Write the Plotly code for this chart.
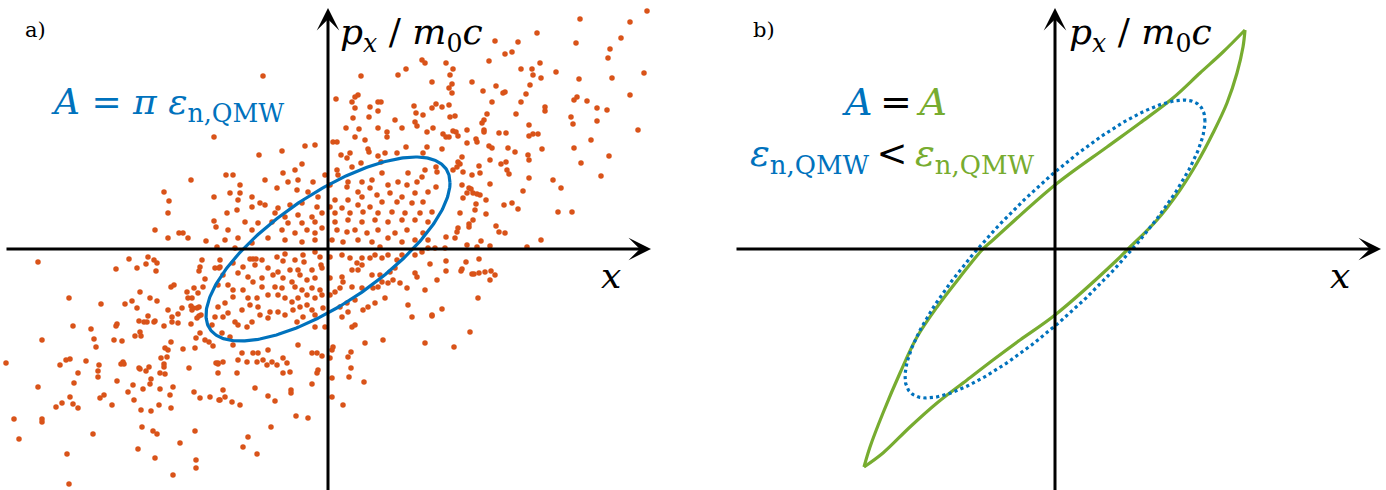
import numpy as np
import plotly.graph_objects as go

# ---------------------------------------------------------------
# Phase-space particle cloud (x, p_x/m0c) in panel a, grouped by area
# ---------------------------------------------------------------
dots_nw = [(-114,112),(-137,69),(-164,57),(-159,48),(-114,52),(-160,36),(-114,28),(-112,22),
           (-173,19),(-149,16),(-145,16),(-140,11),(-160,11),(-122,8),(-111,2)]

dots_n = [(94,189),(97,186),(78,180),(70,174),(33,173),(104,167),(-65,173),(30,154),(27,152),(8,150),
          (50,147),(53,147),(24,147),(42,142),(27,141),(86,143),(104,141),(88,136),(95,134),(50,138),
          (67,129),(41,132),(25,131),(87,127),(89,123),(74,121),(50,121),(59,117),(31,120),(18,121),
          (99,117),(59,112),(37,109),(27,112),(5,107),(9,107),(-13,104),(-23,103),(40,100),(78,102),
          (99,102),(22,96),(13,94),(50,93),(57,96),(41,97),(69,96),(95,96),(-46,98),(-69,94),
          (19,91),(33,86),(53,87),(24,82),(9,79),(-3,74),(10,74),(-26,85),(-33,79),(-45,76),
          (-102,74),(-95,74),(20,67),(34,67),(44,69),(54,76),(80,76),(97,79),(94,72),(89,67),
          (79,64),(70,67),(60,64),(42,61),(30,57),(19,62),(2,64),(-15,67),(-30,69),(-40,67),
          (-51,61),(-63,69),(-88,64),(-98,56),(-88,56),(-76,52),(-68,46),(-90,49),(-31,59),(-20,57),
          (-10,52),(7,49),(20,49),(34,52),(49,54),(62,56),(74,52),(87,56),(100,57),(95,47),
          (84,46),(69,47),(54,47),(42,42),(30,44),(14,41),(2,42),(-11,42),(-26,46),(-38,44),
          (-50,41),(-63,44),(-76,42),(-91,39),(-101,36),(-53,36),(-43,32),(-30,34),(-16,32),(-6,36),
          (7,36),(22,36),(35,37),(50,36),(64,37),(77,36),(92,36),(104,37),(100,27),(87,29),
          (74,29),(60,27),(47,29),(34,27),(20,29),(7,27),(-13,27),(-26,26),(-40,26),(-56,27),
          (-70,26),(-83,27),(-100,19),(-76,19),(-46,19),(-33,16),(-21,19),(-13,16),(-6,21),(9,19),
          (19,17),(27,19),(39,16),(50,19),(67,16),(79,19),(95,16),(-60,11),(-43,9),(-26,7),
          (-13,9),(4,9),(15,7),(30,9),(44,7),(60,11),(74,7),(87,9),(100,9),(-103,9),
          (-90,11),(-76,6),(52,2)]

dots_ne = [(319,238),(252,230),(302,227),(209,216),(293,211),(167,208),(190,207),(248,206),(282,200),(184,197),
           (177,195),(161,188),(280,191),(118,186),(212,186),(125,180),(193,180),(204,180),(228,177),(316,176),
           (122,174),(205,174),(213,171),(284,171),(251,170),(144,167),(124,165),(202,164),(168,163),(121,161),
           (155,158),(124,156),(177,157),(175,156),(198,155),(302,154),(249,152),(246,149),(259,148),(164,147),
           (193,147),(108,145),(121,144),(114,142),(217,142),(217,138),(269,141),(279,139),(188,135),(159,135),
           (122,132),(127,133),(243,132),(156,129),(154,126),(269,128),(245,125),(201,124),(105,121),(310,119),
           (139,119),(156,119),(156,117),(125,118),(128,117),(115,115),(118,112),(121,112),(130,113),(171,116),
           (178,116),(201,113),(205,115),(210,115),(148,110),(149,107),(139,106),(263,109),(161,103),(164,101),
           (180,101),(114,100),(214,100),(246,101),(187,97),(200,94),(201,89),(134,92),(281,93),(162,89),
           (253,86),(130,87),(132,85),(129,82),(178,87),(173,85),(151,83),(179,79),(181,75),(108,82),
           (125,79),(135,77),(152,76),(144,74),(273,73),(201,71),(225,69),(162,65),(134,64),(141,61),
           (143,60),(233,61),(145,56),(149,55),(152,54),(139,56),(195,58),(135,51),(158,49),(148,45),
           (184,46),(176,44),(230,37),(244,37),(190,40),(147,39),(132,36),(158,35),(145,29),(141,25),
           (141,22),(168,23),(130,21),(129,17),(171,17),(177,16),(118,12),(127,11),(213,9),(153,8),
           (139,4),(162,3),(199,2),(149,2),(108,62),(109,77)]

dots_se = [(102,-15),(107,1),(117,1),(118,-12),(138,-13),(151,-10),(118,-22),(134,-20),(133,-22),(144,-25),
           (146,-25),(151,-24),(157,-23),(163,-22),(167,-26),(162,-31),(109,-31),(150,-49),(114,-60),(104,-67),
           (142,-83),(126,-98)]

dots_sw = [(-290,-13),(-199,-10),(-180,-8),(-174,-11),(-171,-14),(-182,-15),(-212,-20),(-191,-19),(-172,-22),(-126,-11),
           (-128,-18),(-129,-22),(-113,-19),(-109,-19),(-123,-30),(-154,-36),(-157,-38),(-134,-39),(-125,-38),(-141,-43),
           (-130,-44),(-188,-43),(-140,-49),(-136,-49),(-178,-49),(-171,-52),(-196,-52),(-259,-49),(-227,-55),(-203,-55),
           (-146,-59),(-137,-57),(-135,-59),(-131,-59),(-129,-58),(-136,-61),(-191,-59),(-160,-61),(-150,-65),(-156,-68),
           (-180,-67),(-129,-67),(-131,-69),(-127,-66),(-189,-72),(-184,-73),(-181,-73),(-174,-73),(-173,-72),(-150,-74),
           (-156,-73),(-137,-75),(-164,-77),(-211,-75),(-212,-77),(-255,-77),(-116,-76),(-237,-80),(-188,-83),(-128,-84),
           (-193,-87),(-187,-87),(-132,-89),(-123,-91),(-119,-93),(-157,-93),(-115,-97),(-286,-91),(-234,-90),(-214,-91),
           (-206,-92),(-232,-98),(-145,-100),(-133,-99),(-163,-99),(-160,-101),(-161,-108),(-167,-109),(-322,-114),(-262,-111),
           (-258,-110),(-242,-112),(-268,-116),(-229,-116),(-207,-115),(-205,-113),(-204,-115),(-164,-115),(-164,-118),(-112,-114),
           (-110,-115),(-189,-119),(-188,-120),(-179,-118),(-139,-119),(-182,-122),(-230,-122),(-250,-124),(-168,-124),(-163,-125),
           (-230,-128),(-177,-130),(-254,-134),(-211,-132),(-178,-135),(-290,-138),(-195,-136),(-155,-138),(-185,-140),(-168,-140),
           (-200,-143),(-134,-143),(-158,-146),(-224,-146),(-228,-149),(-258,-148),(-128,-149),(-118,-148),(-109,-151),(-194,-151),
           (-266,-154),(-255,-155),(-272,-158),(-250,-159),(-216,-156),(-169,-156),(-157,-159),(-187,-161),(-177,-162),(-314,-170),
           (-286,-170),(-286,-173),(-186,-178),(-175,-182),(-171,-185),(-133,-182),(-235,-185),(-309,-190),(-148,-194),(-190,-200),
           (-261,-205),(-173,-209),(-132,-211),(-132,-219),(-155,-226),(-259,-235)]

dots_s = [(-93,1),(-78,-10),(-75,-10),(-72,-10),(-66,-11),(-51,-8),(-43,-5),(-45,-12),(-33,-11),(-25,-6),
          (-24,-13),(-13,-3),(-8,-8),(-7,-16),(-16,-21),(-6,-19),(2,-8),(14,-6),(22,-9),(29,-14),
          (34,-9),(42,-9),(47,-6),(54,-9),(60,-6),(69,-11),(74,-6),(87,-6),(94,-3),(100,1),
          (-108,-11),(-95,-14),(-108,-18),(-85,-18),(-73,-16),(-60,-19),(-50,-23),(-38,-21),(-30,-21),(-28,-26),
          (-21,-31),(-13,-29),(2,-29),(14,-28),(24,-21),(30,-21),(34,-16),(44,-26),(52,-26),(62,-23),
          (67,-19),(65,-31),(60,-34),(54,-33),(50,-38),(45,-39),(34,-39),(24,-38),(15,-33),(12,-39),
          (7,-43),(2,-46),(87,-24),(89,-28),(97,-41),(79,-39),(72,-34),(-105,-26),(-90,-24),(-80,-28),
          (-66,-29),(-55,-26),(-45,-29),(-36,-33),(-53,-38),(-46,-39),(-66,-38),(-75,-33),(-85,-41),(-95,-41),
          (-100,-36),(-110,-36),(-95,-48),(-80,-49),(-71,-49),(-60,-46),(-50,-46),(-43,-49),(-36,-53),(-30,-49),
          (-21,-46),(-13,-49),(-6,-46),(-26,-41),(-33,-38),(-16,-39),(-8,-41),(-70,-58),(-78,-56),(-86,-61),
          (-103,-54),(-110,-58),(-100,-64),(-105,-68),(-113,-68),(-93,-73),(-90,-76),(-81,-78),(-76,-73),(-68,-66),
          (-60,-69),(-58,-63),(-50,-63),(-43,-66),(-35,-61),(-28,-58),(-21,-56),(-16,-61),(-13,-66),(-5,-59),
          (-25,-68),(-31,-73),(-13,-78),(-3,-78),(19,-54),(27,-51),(35,-61),(40,-58),(47,-54),(57,-49),
          (80,-56),(84,-68),(104,-66),(97,-94),(55,-91),(37,-94),(24,-78),(27,-76),(14,-68),(12,-58),
          (20,-63),(-98,-88),(-106,-84),(-95,-96),(-86,-104),(-75,-104),(-70,-104),(-60,-101),(-45,-109),(-41,-114),
          (-56,-113),(-61,-116),(-51,-116),(-65,-111),(-71,-113),(-81,-113),(-90,-111),(-105,-113),(-110,-114),(-110,-124),
          (-91,-124),(-73,-139),(-105,-141),(-103,-148),(-108,-151),(-96,-153),(-88,-156),(-60,-147),(-53,-152),(-38,-123),
          (-45,-124),(-37,-141),(-37,-144),(-32,-167),(-20,-169),(-57,-178),(-80,-188),(-85,-198),(-71,-205),(-30,-96),
          (-16,-104),(-11,-104),(-6,-107),(-10,-121),(-11,-124),(-16,-135),(4,-101),(5,-98),(2,-109),(4,-129),
          (4,-148),(15,-156),(20,-108),(23,-103),(23,-119),(21,-128),(36,-133)]

# rms ellipse of the cloud: half width in x, half height in p, p at x = 0
ellipse_a = dict(x_max=122, p_max=92, p_at_zero=64)
# equivalent ellipse of panel b (same area as the distorted contour)
ellipse_b = dict(x_max=150, p_max=149, p_at_zero=77)

# distorted (nonlinear) phase-space contour of panel b, two branches tip to tip
green_upper_x = [190, 168, 145, 118, 85, 52, 0, -62, -73, -95, -118, -138, -155, -172, -185, -191]
green_upper_p = [219, 197, 176, 151, 126, 102, 64, 9, -1, -28, -58, -88, -124, -164, -198, -218]
green_lower_x = [-191, -172, -145, -118, -88, -62, -35, 0, 62, 72, 102, 125, 142, 158, 172, 182, 188, 190]
green_lower_p = [-218, -204, -178, -154, -131, -111, -91, -66, -11, -1, 29, 59, 86, 116, 146, 176, 202, 219]

BLUE = "#0072BD"
GREEN = "#77AC30"
ORANGE = "#D95319"
SERIF = "DejaVu Serif"
THIN = "\u2009"


def ellipse_outline(x_max, p_max, p_at_zero, n=361):
    delta = np.arcsin(p_at_zero / p_max)
    t = np.linspace(0, 2 * np.pi, n)
    return x_max * np.cos(t), p_max * np.cos(t - delta)


fig = go.Figure()

all_dots = dots_nw + dots_n + dots_ne + dots_se + dots_sw + dots_s
fig.add_trace(go.Scatter(
    x=[d[0] for d in all_dots], y=[d[1] for d in all_dots], mode="markers",
    marker=dict(size=5.5, color=ORANGE, line=dict(width=0)),
    xaxis="x", yaxis="y", hoverinfo="skip"))

ex, ep = ellipse_outline(**ellipse_a)
fig.add_trace(go.Scatter(x=ex, y=ep, mode="lines", line=dict(color=BLUE, width=3.2),
                         xaxis="x", yaxis="y", hoverinfo="skip"))

fig.add_trace(go.Scatter(x=green_upper_x, y=green_upper_p, mode="lines",
                         line=dict(color=GREEN, width=3.2, shape="spline", smoothing=1.0),
                         xaxis="x2", yaxis="y2", hoverinfo="skip"))
fig.add_trace(go.Scatter(x=green_lower_x, y=green_lower_p, mode="lines",
                         line=dict(color=GREEN, width=3.2, shape="spline", smoothing=1.0),
                         xaxis="x2", yaxis="y2", hoverinfo="skip"))

bx, bp = ellipse_outline(**ellipse_b)
fig.add_trace(go.Scatter(x=bx, y=bp, mode="lines", line=dict(color=BLUE, width=3.2, dash="dot"),
                         xaxis="x2", yaxis="y2", hoverinfo="skip"))

ann = []

# coordinate axes with arrow heads
def axis_arrow(xref, yref, x_tail, y_tail, x_tip, y_tip):
    ann.append(dict(x=x_tip, y=y_tip, ax=x_tail, ay=y_tail, xref=xref, yref=yref,
                    axref=xref, ayref=yref, text="", showarrow=True, arrowhead=3,
                    arrowsize=1.25, arrowwidth=3, arrowcolor="black", standoff=0))

axis_arrow("x", "y", -323, 0, 323, 0)
axis_arrow("x", "y", 0, -245, 0, 241)
axis_arrow("x2", "y2", -320, 0, 326, 0)
axis_arrow("x2", "y2", 0, -245, 0, 241)

def label(xref, yref, x, y, text, size, color="black", xanchor="left", yanchor="middle"):
    ann.append(dict(x=x, y=y, xref=xref, yref=yref, text=text, showarrow=False,
                    xanchor=xanchor, yanchor=yanchor,
                    font=dict(family=SERIF, size=size, color=color)))

p_label = "<i>p</i><sub><i>x</i></sub> / <i>m</i><sub>0</sub><i>c</i>"

# panel a
label("x", "y", -305, 219, "a)", 21)
label("x", "y", 10, 215, p_label, 36)
label("x", "y", 283, -26, "<i>x</i>", 36, xanchor="center")
label("x", "y", -279, 145, "<i>A</i> = <i>π</i> <i>ε</i><sub>n,QMW</sub>", 36, color=BLUE)

# panel b
label("x2", "y2", -304, 219, "b)", 21)
label("x2", "y2", 12, 215, p_label, 36)
label("x2", "y2", 285, -26, "<i>x</i>", 36, xanchor="center")
label("x2", "y2", -161, 147,
      f"<span style='color:{BLUE}'><i>A</i></span>{THIN}={THIN}<span style='color:{GREEN}'><i>A</i></span>",
      38, xanchor="center")
label("x2", "y2", -163, 93,
      f"<span style='color:{BLUE}'><i>ε</i><sub>n,QMW</sub></span>{THIN}&lt;{THIN}"
      f"<span style='color:{GREEN}'><i>ε</i><sub>n,QMW</sub></span>",
      37, xanchor="center")

hidden = dict(visible=False, showgrid=False, zeroline=False, fixedrange=True)
fig.update_layout(
    width=1386, height=490,
    margin=dict(l=0, r=0, t=0, b=0),
    paper_bgcolor="white", plot_bgcolor="white",
    showlegend=False,
    xaxis=dict(domain=[0, 0.5], range=[-328, 365], **hidden),
    yaxis=dict(domain=[0, 1], range=[-241, 249], **hidden),
    xaxis2=dict(domain=[0.5, 1], range=[-362, 331], **hidden),
    yaxis2=dict(domain=[0, 1], range=[-241, 249], anchor="x2", **hidden),
    annotations=ann,
)

fig.write_html("out.html")
